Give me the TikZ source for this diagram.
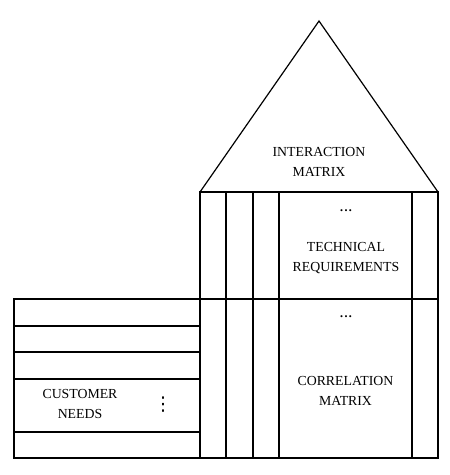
\documentclass[tikz,border=0pt]{standalone}
\usepackage{fontspec}
\setmainfont{Liberation Serif}
\newfontfamily\dotsfont{DejaVu Sans}
\newcommand\hdots{\textbullet\hspace{1.3pt}\textbullet\hspace{1.3pt}\textbullet}
\begin{document}
\begin{tikzpicture}[x=1pt,y=-1pt,line width=1.2pt,
  lbl/.style={align=center,inner sep=0pt,font=\fontsize{13.8}{20}\selectfont},
  dotlbl/.style={inner sep=0pt,font=\fontsize{8.5}{10}\selectfont}]
\useasboundingbox (0,0) rectangle (450,475);
% roof
\draw (200,192) -- (319,21) -- (438,192);
% main house
\draw (200,192) rectangle (438,458);
\draw (200,299) -- (438,299);
\foreach \x in {226,253,279,412} {\draw (\x,192) -- (\x,458);}
% left wing
\draw (14,299) rectangle (200,458);
\foreach \y in {326,352,379,432} {\draw (14,\y) -- (200,\y);}
% labels
\node[lbl] (interact) at (319,161.5) {INTERACTION\\MATRIX};
\node[dotlbl] (techdots) at (346,212) {\hdots};
\node[lbl] (techreq) at (346,258) {TECHNICAL\\REQUIREMENTS};
\node[dotlbl] (corrdots) at (346,318) {\hdots};
\node[lbl] (corr) at (345.5,391) {CORRELATION\\MATRIX};
\node[lbl] (needs) at (80,404) {CUSTOMER\\NEEDS};
\node[lbl,font=\fontsize{19}{20}\dotsfont] (needsdots) at (163,404.5) {⋮};
\end{tikzpicture}
\end{document}
